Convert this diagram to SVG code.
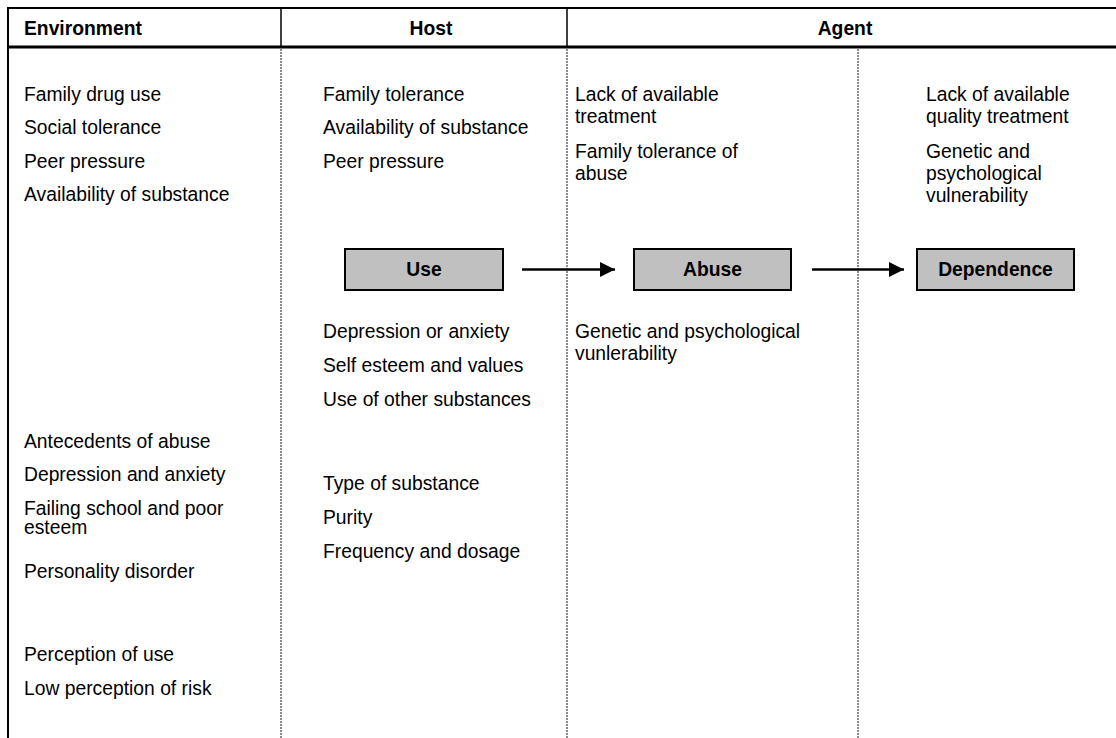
<svg xmlns="http://www.w3.org/2000/svg" width="1116" height="738" viewBox="0 0 1116 738">
<style>
text{font-family:"Liberation Sans",Arial,sans-serif;font-size:19.3px;fill:#000}
.b{font-weight:bold}
.m{text-anchor:middle}
.dot{stroke:#8c8c8c;stroke-width:2;stroke-dasharray:2,1;fill:none}
.box{fill:#c0c0c0;stroke:#000;stroke-width:2}
.ln{stroke:#000;fill:none}
</style>
<defs>
<marker id="ah" viewBox="0 0 10 10" refX="10" refY="5" markerWidth="6" markerHeight="6" markerUnits="strokeWidth" orient="auto">
<path d="M0,0 L10,5 L0,10 z" fill="#000"/>
</marker>
</defs>
<rect width="1116" height="738" fill="#fff"/>
<g id="frame">
<line class="ln" x1="7" y1="8" x2="1116" y2="8" stroke-width="2"/>
<line class="ln" x1="7" y1="47" x2="1116" y2="47" stroke-width="3"/>
<line class="ln" x1="8" y1="7" x2="8" y2="738" stroke-width="2"/>
<line class="ln" x1="281" y1="8" x2="281" y2="47" stroke-width="1.5"/>
<line class="ln" x1="567" y1="8" x2="567" y2="47" stroke-width="1.5"/>
<line class="dot" x1="281" y1="49" x2="281" y2="738"/>
<line class="dot" x1="567" y1="49" x2="567" y2="738"/>
<line class="dot" x1="858" y1="49" x2="858" y2="738"/>
<text class="b" x="24" y="35">Environment</text>
<text class="b m" x="431" y="35">Host</text>
<text class="b m" x="845" y="35">Agent</text>
</g>
<g id="environment">
<text x="24" y="101">Family drug use</text>
<text x="24" y="134">Social tolerance</text>
<text x="24" y="168">Peer pressure</text>
<text x="24" y="201">Availability of substance</text>
<text x="24" y="448">Antecedents of abuse</text>
<text x="24" y="481">Depression and anxiety</text>
<text x="24" y="515">Failing school and poor</text>
<text x="24" y="534">esteem</text>
<text x="24" y="578">Personality disorder</text>
<text x="24" y="661">Perception of use</text>
<text x="24" y="695">Low perception of risk</text>
</g>
<g id="host">
<text x="323" y="101">Family tolerance</text>
<text x="323" y="134">Availability of substance</text>
<text x="323" y="168">Peer pressure</text>
<text x="323" y="338">Depression or anxiety</text>
<text x="323" y="372">Self esteem and values</text>
<text x="323" y="406">Use of other substances</text>
<text x="323" y="490">Type of substance</text>
<text x="323" y="524">Purity</text>
<text x="323" y="558">Frequency and dosage</text>
</g>
<g id="agent-abuse">
<text x="575" y="101">Lack of available</text>
<text x="575" y="123">treatment</text>
<text x="575" y="158">Family tolerance of</text>
<text x="575" y="180">abuse</text>
<text x="575" y="338">Genetic and psychological</text>
<text x="575" y="360">vunlerability</text>
</g>
<g id="agent-dependence">
<text x="926" y="101">Lack of available</text>
<text x="926" y="123">quality treatment</text>
<text x="926" y="158">Genetic and</text>
<text x="926" y="180">psychological</text>
<text x="926" y="202">vulnerability</text>
</g>
<g id="use">
<rect class="box" x="345" y="249" width="158" height="41"/>
<text class="b m" x="424" y="276">Use</text>
</g>
<g id="abuse">
<rect class="box" x="634" y="249" width="157" height="41"/>
<text class="b m" x="712.5" y="276">Abuse</text>
</g>
<g id="dependence">
<rect class="box" x="917" y="249" width="157" height="41"/>
<text class="b m" x="995.5" y="276">Dependence</text>
</g>
<g id="connectors">
<line class="ln" x1="522" y1="269.5" x2="615" y2="269.5" stroke-width="2.5" marker-end="url(#ah)"/>
<line class="ln" x1="812" y1="269.5" x2="904" y2="269.5" stroke-width="2.5" marker-end="url(#ah)"/>
</g>
</svg>
